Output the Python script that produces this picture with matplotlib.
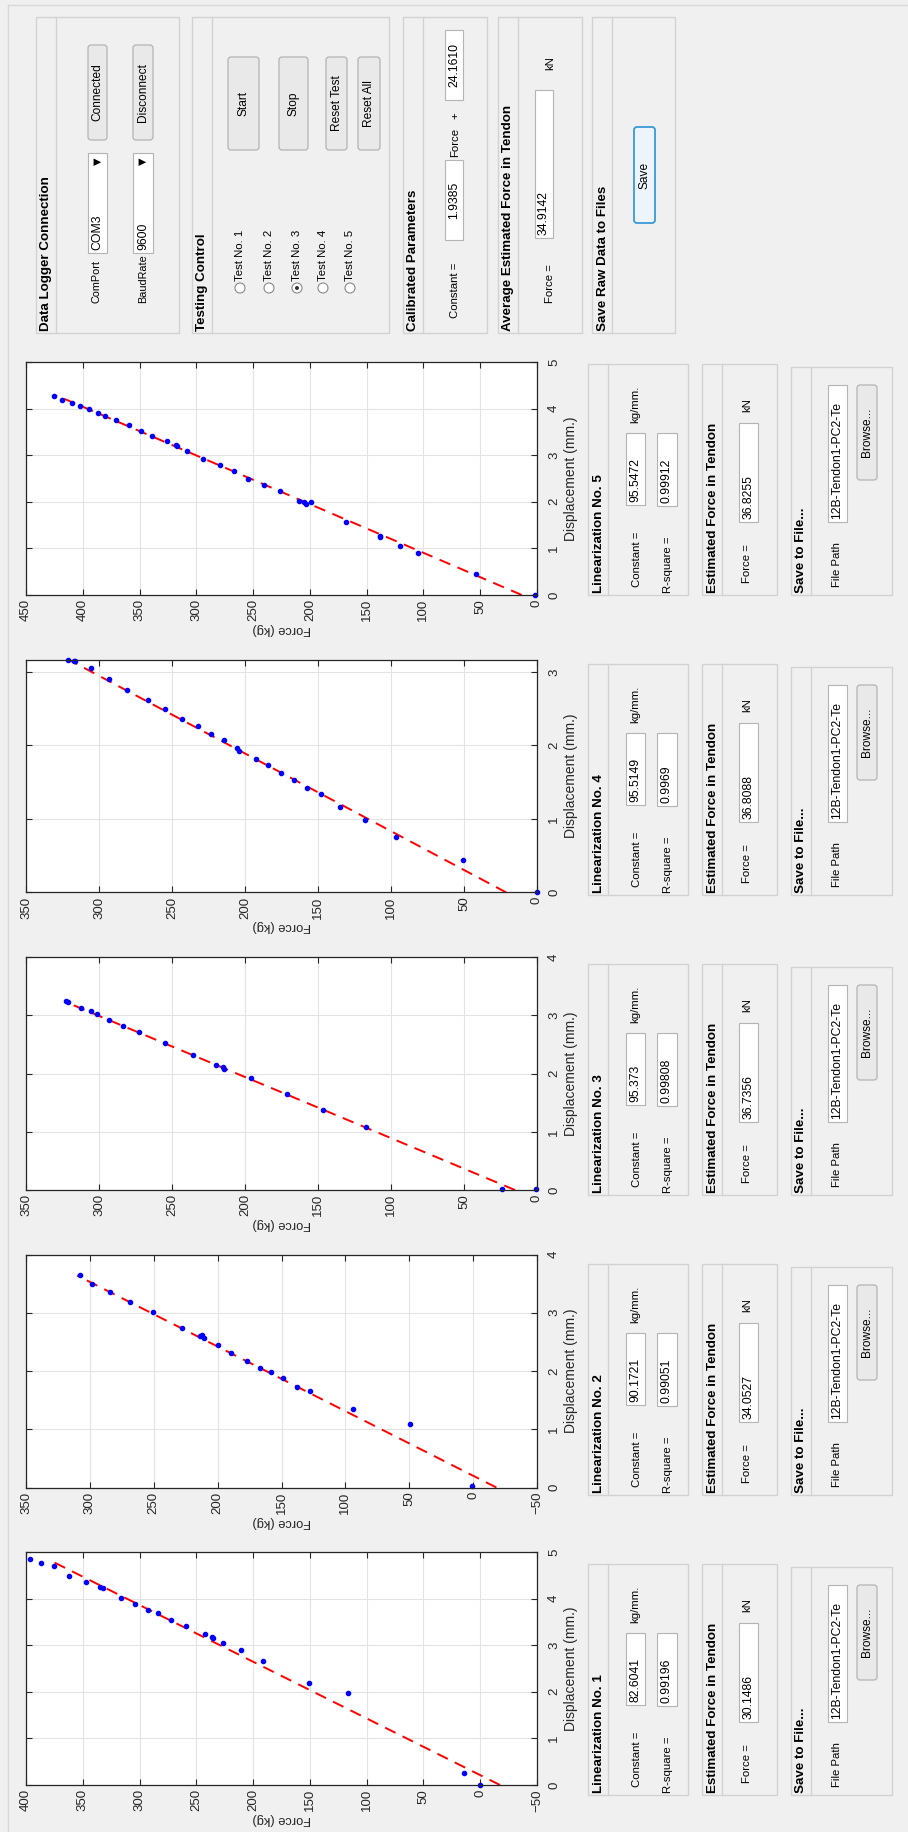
import matplotlib
matplotlib.use("Agg")
import matplotlib.pyplot as plt
from matplotlib.patches import Rectangle, FancyBboxPatch, Circle

plt.rcParams['font.family'] = ['Liberation Sans', 'DejaVu Sans']

# ---- data (force kg, displacement mm) ----
p1_force = [396.4, 387.2, 375.5, 361.7, 347.3, 335.1, 332.0, 316.7, 304.4, 292.6, 284.0, 272.2,
            259.4, 242.5, 236.4, 235.4, 226.2, 210.8, 191.4, 150.5, 116.3, 14.0, 0.0]
p1_disp = [4.86, 4.77, 4.69, 4.49, 4.36, 4.25, 4.22, 4.01, 3.89, 3.76, 3.69, 3.54,
           3.41, 3.24, 3.18, 3.16, 3.05, 2.89, 2.66, 2.19, 1.98, 0.26, 0.01]
p1_fit_force = [-17.4, 380.4]
p1_fit_disp = [0.0, 4.84]

p2_force = [308.1, 298.3, 284.3, 268.7, 250.7, 227.6, 214.1, 212.3, 210.4, 199.5, 189.2, 177.0,
            166.7, 158.0, 149.2, 137.6, 127.5, 93.9, 49.3, 1.1]
p2_disp = [3.64, 3.50, 3.36, 3.19, 3.02, 2.73, 2.60, 2.61, 2.57, 2.45, 2.31, 2.18,
           2.05, 1.99, 1.88, 1.73, 1.65, 1.35, 1.09, 0.02]
p2_fit_force = [-18.2, 310.0]
p2_fit_disp = [0.0, 3.64]

p3_force = [322.3, 321.5, 312.4, 305.6, 301.3, 293.3, 283.8, 272.7, 254.9, 235.9, 220.0, 215.3,
            214.1, 196.2, 170.9, 146.7, 117.3, 23.8, 0.4]
p3_disp = [3.25, 3.22, 3.12, 3.07, 3.02, 2.92, 2.82, 2.71, 2.52, 2.32, 2.15, 2.11,
           2.08, 1.93, 1.65, 1.37, 1.09, 0.01, 0.01]
p3_fit_force = [15.1, 323.0]
p3_fit_disp = [0.0, 3.23]

p4_force = [321.1, 317.1, 316.3, 305.6, 293.3, 280.6, 266.7, 254.9, 243.0, 232.3, 223.2, 214.1,
            205.3, 204.1, 192.6, 184.3, 175.6, 166.5, 157.7, 147.8, 134.8, 118.1, 96.3, 50.7, 0.0]
p4_disp = [3.17, 3.15, 3.15, 3.05, 2.90, 2.76, 2.62, 2.49, 2.36, 2.26, 2.16, 2.07,
           1.97, 1.93, 1.82, 1.74, 1.63, 1.53, 1.42, 1.34, 1.16, 0.99, 0.76, 0.44, 0.0]
p4_fit_force = [21.0, 321.0]
p4_fit_disp = [0.0, 3.17]

p5_force = [425.6, 418.1, 409.8, 402.3, 394.3, 386.8, 380.6, 371.0, 359.7, 348.7, 338.8, 325.4,
            318.0, 317.4, 308.4, 294.1, 279.2, 266.7, 254.2, 240.8, 226.5, 209.2, 205.6, 203.2,
            199.1, 168.4, 138.6, 138.0, 120.7, 105.2, 53.6, 1.5]
p5_disp = [4.26, 4.18, 4.12, 4.05, 4.00, 3.91, 3.85, 3.75, 3.64, 3.53, 3.42, 3.30,
           3.21, 3.19, 3.09, 2.92, 2.79, 2.66, 2.50, 2.37, 2.24, 2.01, 2.00, 1.96,
           1.99, 1.56, 1.26, 1.24, 1.06, 0.91, 0.44, 0.0]
p5_fit_force = [13.4, 423.0]
p5_fit_disp = [0.0, 4.28]

force_limits = [(-50, 400), (-50, 350), (0, 350), (0, 350), (0, 450)]
disp_limits = [5, 4, 4, 3.17, 5]

# ---- values shown in the panels ----
constants = ["82.6041", "90.1721", "95.373", "95.5149", "95.5472"]
rsquares = ["0.99196", "0.99051", "0.99808", "0.9969", "0.99912"]
est_forces = ["30.1486", "34.0527", "36.7356", "36.8088", "36.8255"]
file_path = "12B-Tendon1-PC2-Te"
com_port = "COM3"
baud_rate = "9600"
test_labels = ["Test No. 1", "Test No. 2", "Test No. 3", "Test No. 4", "Test No. 5"]
selected_test = 2
calib_const = "1.9385"
calib_offset = "24.1610"
avg_force = "34.9142"

forces = [p1_force, p2_force, p3_force, p4_force, p5_force]
disps = [p1_disp, p2_disp, p3_disp, p4_disp, p5_disp]
fit_forces = [p1_fit_force, p2_fit_force, p3_fit_force, p4_fit_force, p5_fit_force]
fit_disps = [p1_fit_disp, p2_fit_disp, p3_fit_disp, p4_fit_disp, p5_fit_disp]

W, H = 908, 1832
BG = '#f0f0f0'
fig = plt.figure(figsize=(W / 100, H / 100), dpi=100, facecolor=BG)

# background axes in pixel coordinates (y downwards), whole GUI is turned 90 deg
bg = fig.add_axes([0, 0, 1, 1])
bg.set_xlim(0, W)
bg.set_ylim(H, 0)
bg.axis('off')
bg.set_zorder(-1)

bg.plot([8, 8], [5, H], color='#d9d9d9', lw=1)
bg.plot([8, W], [5, 5], color='#d9d9d9', lw=1)


def text(x, y, s, size=8.2, bold=False, anchor='start', color='black'):
    va = 'bottom' if anchor == 'start' else 'center'
    bg.text(x, y, s, rotation=90, ha='center', va=va, fontsize=size,
            fontweight='bold' if bold else 'normal', color=color)


def panel(x0, x1, y0, y1, title):
    bg.add_patch(Rectangle((x0, y0), x1 - x0, y1 - y0, fill=False, ec='#d2d2d2', lw=1))
    bg.plot([x0 + 20, x0 + 20], [y0, y1], color='#d2d2d2', lw=1)
    text(x0 + 10.5, y1 - 2, title, size=9.6, bold=True)


def edit_box(x0, x1, y0, y1, s, align='start'):
    bg.add_patch(Rectangle((x0, y0), x1 - x0, y1 - y0, fc='white', ec='#b4b4b4', lw=0.8))
    if align == 'start':
        text((x0 + x1) / 2, y1 - 3, s, size=8.8)
    else:
        text((x0 + x1) / 2, (y0 + y1) / 2, s, size=8.8, anchor='center')


def button(x0, x1, y0, y1, s, ec='#adadad', fc='#e9e9e9', lw=0.8):
    bg.add_patch(FancyBboxPatch((x0, y0), x1 - x0, y1 - y0,
                                boxstyle="round,pad=0,rounding_size=3",
                                fc=fc, ec=ec, lw=lw))
    text((x0 + x1) / 2, (y0 + y1) / 2, s, size=8.6, anchor='center')


def dropdown(x0, x1, y0, y1, s):
    edit_box(x0, x1, y0, y1, s)
    bg.text((x0 + x1) / 2, y0 + 8, '\u25bc', rotation=90, ha='center', va='center',
            fontsize=7, family='DejaVu Sans', color='black')


# ---- control panels (top of the picture) ----
panel(36, 179, 17, 333, "Data Logger Connection")
text(97, 303, "ComPort", size=7.8)
dropdown(88, 107, 153, 253, com_port)
button(88, 107, 45, 140, "Connected")
text(143, 303, "BaudRate", size=7.8)
dropdown(133, 153, 153, 253, baud_rate)
button(133, 153, 45, 140, "Disconnect")

panel(192, 389, 17, 333, "Testing Control")
radio_x = [240, 269, 297, 323, 350]
for k, lab in enumerate(test_labels):
    bg.add_patch(Circle((radio_x[k], 288), 5, fc='white', ec='#8a8a8a', lw=0.8))
    if k == selected_test:
        bg.add_patch(Circle((radio_x[k], 288), 2, fc='#333333', ec='none'))
    text(radio_x[k], 281, lab)
button(228, 259, 57, 150, "Start")
button(279, 308, 57, 150, "Stop")
button(326, 347, 57, 150, "Reset Test")
button(358, 380, 57, 150, "Reset All")

panel(403, 487, 17, 333, "Calibrated Parameters")
text(455, 318, "Constant =")
edit_box(445, 463, 160, 240, calib_const, align='center')
text(455, 157, "Force")
text(455, 116, "+", anchor='center')
edit_box(445, 463, 30, 100, calib_offset, align='center')

panel(498, 582, 17, 333, "Average Estimated Force in Tendon")
text(550, 303, "Force =")
edit_box(535, 553, 90, 238, avg_force)
text(550, 63, "kN", anchor='center')

panel(592, 675, 17, 333, "Save Raw Data to Files")
button(634, 655, 127, 223, "Save", ec='#3a9ad9', fc='#edf4fb', lw=1.3)

# ---- per-test panels ----
for i in range(5):
    yb = 1795 - i * 300
    yt = yb - 231
    panel(588, 688, yt, yb, "Linearization No. %d" % (i + 1))
    text(637, yb - 8, "Constant =")
    edit_box(626, 645, yb - 162, yb - 90, constants[i])
    text(635, yb - 172, "kg/mm.")
    text(668, yb - 2, "R-square =")
    edit_box(657, 677, yb - 162, yb - 89, rsquares[i])

    panel(702, 777, yt, yb, "Estimated Force in Tendon")
    text(747, yb - 12, "Force =")
    edit_box(739, 758, yb - 172, yb - 73, est_forces[i])
    text(747, yb - 190, "kN", anchor='center')

    panel(791, 892, yt + 3, yb, "Save to File...")
    text(837, yb - 8, "File Path")
    edit_box(828, 847, yb - 210, yb - 73, file_path)
    button(857, 877, yb - 210, yb - 115, "Browse...")

# ---- the five plots ----
for i in range(5):
    ybot = 1785 - i * 297.5
    ax = fig.add_axes([26 / W, 1 - ybot / H, 511 / W, 233 / H])
    ax.set_facecolor('white')
    ax.plot(fit_forces[i], fit_disps[i], color='red', lw=1.4, dashes=(6, 4))
    ax.plot(forces[i], disps[i], '.', color='blue', ms=6, clip_on=False)
    fmin, fmax = force_limits[i]
    ax.set_xlim(fmax, fmin)
    ax.set_ylim(0, disp_limits[i])
    ax.set_xticks(range(fmin, fmax + 1, 50))
    ax.set_yticks(range(0, int(disp_limits[i]) + 1))
    ax.grid(True, color='#e3e3e3', lw=0.8)
    ax.set_axisbelow(True)
    for sp in ax.spines.values():
        sp.set_color('#262626')
        sp.set_linewidth(0.9)
    ax.tick_params(direction='in', length=4, width=0.8, top=True, bottom=True, left=True,
                   right=True, labelleft=False, labelright=True, colors='#262626',
                   labelsize=9.5)
    ax.tick_params(axis='x', pad=3, labelrotation=90)
    ax.tick_params(axis='y', pad=8, labelrotation=90)
    for lbl in ax.get_yticklabels():
        lbl.set_va('center')
        lbl.set_ha('left')
    ax.set_xlabel("Force (kg)", rotation=180, fontsize=9.3, color='#262626', labelpad=1)
    ax.yaxis.set_label_position('right')
    ax.set_ylabel("Displacement (mm.)", rotation=90, fontsize=10, color='#262626', labelpad=3)

fig.savefig("out.png", dpi=100, facecolor=BG)
